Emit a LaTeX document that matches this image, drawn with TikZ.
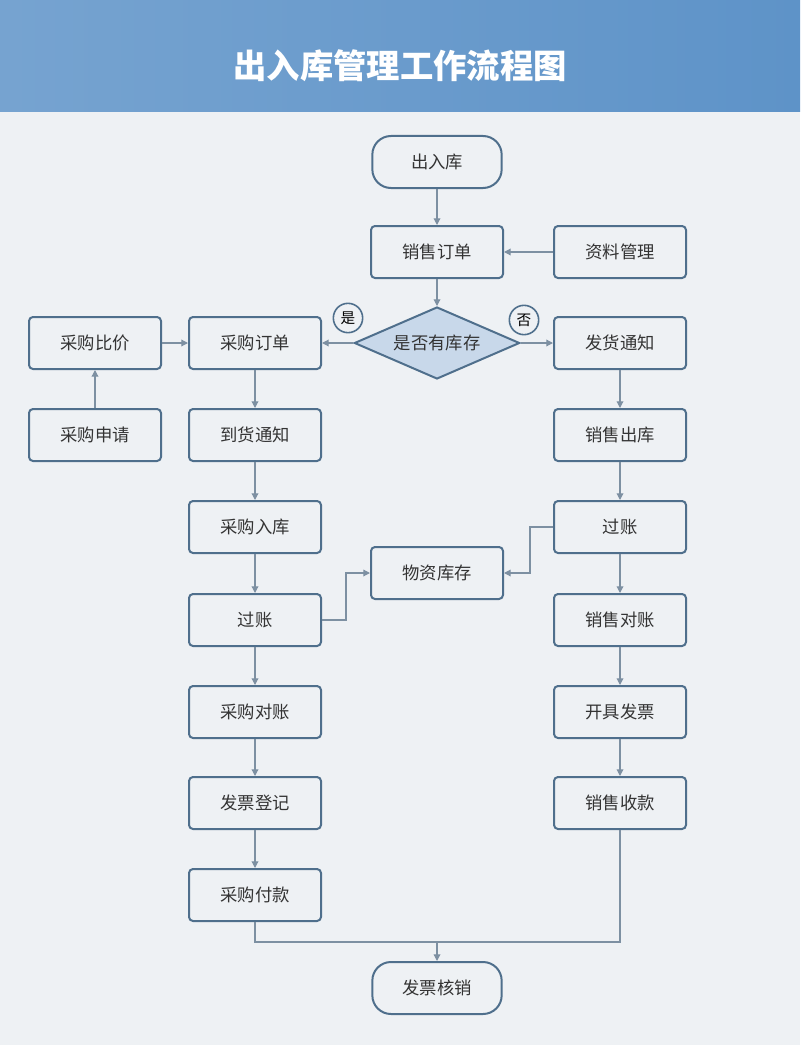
\documentclass[tikz,border=0pt]{standalone}
\usepackage{fontspec}
\setmainfont{Noto Sans CJK SC}
\usetikzlibrary{shapes.geometric,arrows.meta}
\definecolor{bgc}{HTML}{EEF1F4}
\definecolor{hdc}{HTML}{5E93C8}
\definecolor{edc}{HTML}{4F6F8C}
\definecolor{lnc}{HTML}{7D90A2}
\definecolor{dmc}{HTML}{C8D8EA}
\tikzset{
  box/.style={draw=edc,line width=1.5pt,fill=bgc,rounded corners=3pt,minimum width=99pt,minimum height=39pt,font=\fontsize{13}{13}\selectfont,text=black!80},
  term/.style={box,rounded corners=14pt,minimum width=97pt},
  cond/.style={diamond,draw=edc,line width=1.5pt,fill=dmc,aspect=2.3,minimum width=124pt,minimum height=54pt,inner sep=0pt,font=\fontsize{13}{13}\selectfont,text=black!80},
  tag/.style={circle,draw=edc,line width=1.2pt,fill=bgc,minimum size=22pt,inner sep=0pt,font=\fontsize{11}{11}\selectfont},
  flow/.style={draw=lnc,line width=0.9pt,-{Triangle[length=5pt,width=5pt]}},
  link/.style={draw=lnc,line width=0.9pt}
}
\begin{document}
\begin{tikzpicture}[x=0.75pt,y=-0.75pt]
  \fill[bgc] (0,0) rectangle (800,1045);
  \shade[left color=hdc!85!white,right color=hdc] (0,0) rectangle (800,112);
  \node[text=white,font=\fontsize{25}{25}\selectfont\bfseries] (title) at (400,66) {出入库管理工作流程图};
  % nodes
  \node[term] (start) at (437,162) {出入库};
  \node[box] (xsdd) at (437,252) {销售订单};
  \node[box] (zlgl) at (620,252) {资料管理};
  \node[cond] (kc) at (437,343) {是否有库存};
  \node[box] (cgdd) at (255,343) {采购订单};
  \node[box] (cgbj) at (95,343) {采购比价};
  \node[box] (fhtz) at (620,343) {发货通知};
  \node[box] (cgsq) at (95,435) {采购申请};
  \node[box] (dhtz) at (255,435) {到货通知};
  \node[box] (xsck) at (620,435) {销售出库};
  \node[box] (cgrk) at (255,527) {采购入库};
  \node[box] (gzr) at (620,527) {过账};
  \node[box] (wzkc) at (437,573) {物资库存};
  \node[box] (gzl) at (255,620) {过账};
  \node[box] (xsdz) at (620,620) {销售对账};
  \node[box] (cgdz) at (255,712) {采购对账};
  \node[box] (kjfp) at (620,712) {开具发票};
  \node[box] (fpdj) at (255,803) {发票登记};
  \node[box] (xssk) at (620,803) {销售收款};
  \node[box] (cgfk) at (255,895) {采购付款};
  \node[term] (end) at (437,988) {发票核销};
  \node[tag] (yes) at (348,318) {是};
  \node[tag] (no) at (524,320) {否};
  \coordinate (join) at (437,942);
  % connectors
  \draw[flow] (start) -- (xsdd);
  \draw[flow] (zlgl) -- (xsdd);
  \draw[flow] (xsdd) -- (kc);
  \draw[flow] (kc) -- (cgdd);
  \draw[flow] (kc) -- (fhtz);
  \draw[flow] (cgsq) -- (cgbj);
  \draw[flow] (cgbj) -- (cgdd);
  \draw[flow] (cgdd) -- (dhtz);
  \draw[flow] (dhtz) -- (cgrk);
  \draw[flow] (cgrk) -- (gzl);
  \draw[flow] (gzl) -- (cgdz);
  \draw[flow] (cgdz) -- (fpdj);
  \draw[flow] (fpdj) -- (cgfk);
  \draw[flow] (fhtz) -- (xsck);
  \draw[flow] (xsck) -- (gzr);
  \draw[flow] (gzr) -- (xsdz);
  \draw[flow] (xsdz) -- (kjfp);
  \draw[flow] (kjfp) -- (xssk);
  \draw[flow] (gzl.east) -| (346,573) -- (wzkc.west);
  \draw[flow] (gzr.west) -| (530,573) -- (wzkc.east);
  \draw[link] (cgfk.south) |- (join);
  \draw[link] (xssk.south) |- (join);
  \draw[flow] (join) -- (end);
\end{tikzpicture}
\end{document}
